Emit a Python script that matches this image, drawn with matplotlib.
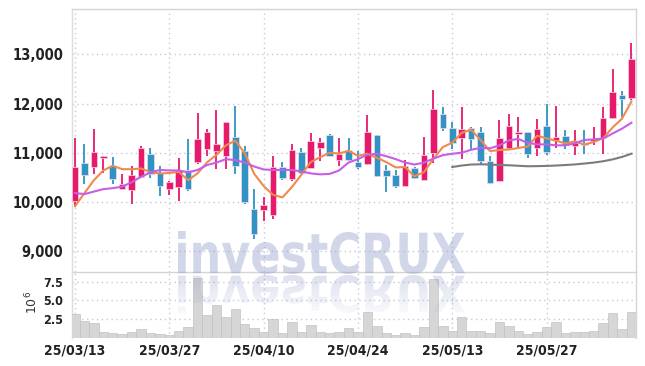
import numpy as np
import matplotlib
matplotlib.use('Agg')
import matplotlib.pyplot as plt
from matplotlib.ticker import FuncFormatter
from matplotlib.textpath import TextPath
from matplotlib.font_manager import FontProperties
from matplotlib.patches import PathPatch
from matplotlib.transforms import Affine2D

# daily candles (index 0 = 25/03/13)
opens = [10020, 10800, 10700, 10890, 10740, 10260, 10240, 10500, 10980, 10590,
         10260, 10310, 10650, 10810, 11080, 11030, 10930, 11320, 11030, 9850,
         9830, 9730, 10720, 10460, 11010, 10680, 11090, 11370, 10850, 11050,
         10820, 10780, 11360, 10640, 10550, 10320, 10690, 10450, 11000, 11780,
         11510, 11300, 11510, 11430, 10840, 10430, 11090, 11380, 11420, 11100,
         11550, 11250, 11340, 11140, 11190, 11230, 11290, 11710, 12180, 12120]
highs = [11300, 11180, 11490, 10940, 10920, 10570, 10740, 11140, 11100, 10730,
         10420, 10900, 11270, 11810, 11480, 11860, 11620, 11940, 11140, 10270,
         10100, 10930, 10810, 11170, 11090, 11410, 11300, 11390, 11300, 11300,
         11030, 11760, 11370, 10760, 10640, 10850, 10700, 11320, 12270, 11930,
         11630, 11930, 11520, 11520, 10930, 11660, 11780, 11730, 11420, 11680,
         12000, 11950, 11460, 11470, 11460, 11520, 11920, 12710, 12250, 13240]
lows = [9920, 10370, 10570, 10580, 10370, 10260, 9950, 10480, 10490, 10130,
        10150, 10020, 10220, 10780, 10930, 10660, 10660, 10560, 9950, 9240,
        9610, 9660, 10440, 10420, 10560, 10680, 10830, 10930, 10730, 10830,
        10660, 10760, 10510, 10210, 10290, 10320, 10460, 10450, 10800, 11440,
        11070, 10870, 11070, 10760, 10360, 10420, 11050, 11120, 10900, 10930,
        10950, 11100, 11070, 10950, 10980, 11150, 10970, 11680, 11730, 12080]
closes = [10710, 10550, 11020, 10940, 10460, 10360, 10540, 11100, 10570, 10320,
          10410, 10650, 10260, 11270, 11430, 11170, 11620, 10740, 9990, 9340,
          9930, 10720, 10480, 11050, 10580, 11230, 11210, 10930, 10970, 10860,
          10710, 11430, 10520, 10530, 10320, 10740, 10490, 10950, 11880, 11510,
          11190, 11490, 11270, 10830, 10390, 11290, 11550, 11420, 10980, 11490,
          11020, 11310, 11150, 11190, 11160, 11280, 11700, 12230, 12100, 12900]
# volume in millions of shares
volume_m = [3.17, 2.23, 1.96, 0.76, 0.63, 0.49, 0.76, 1.12, 0.63, 0.49,
            0.31, 0.89, 1.43, 7.95, 3.04, 4.33, 2.77, 3.79, 1.83, 1.25,
            0.76, 2.50, 0.63, 2.10, 0.76, 1.65, 0.76, 0.58, 0.76, 1.25,
            0.80, 3.39, 1.56, 0.63, 0.31, 0.58, 0.31, 1.38, 7.81, 1.56,
            0.89, 2.72, 0.89, 0.89, 0.63, 2.10, 1.56, 0.89, 0.49, 0.76,
            1.43, 2.10, 0.63, 0.76, 0.76, 0.89, 1.96, 3.26, 1.16, 3.39]

# moving averages (first values depend on earlier days)
ma5_head = [9910, 10180, 10440, 10640]
ma20 = [10180, 10160, 10210, 10260, 10280, 10310, 10400, 10510, 10600, 10650,
        10640, 10640, 10600, 10650, 10750, 10800, 10870, 10850, 10800, 10720,
        10660, 10650, 10650, 10650, 10620, 10580, 10560, 10570, 10640, 10800,
        10870, 10960, 10980, 10930, 10870, 10800, 10760, 10800, 10880, 10950,
        10980, 11000, 11060, 11100, 11090, 11150, 11250, 11280, 11200, 11170,
        11170, 11150, 11150, 11190, 11260, 11270, 11290, 11390, 11490, 11610]
ma60_start = 40
ma60 = [10710, 10740, 10760, 10765, 10760, 10750, 10745, 10735, 10725, 10728,
        10732, 10740, 10750, 10762, 10780, 10800, 10827, 10865, 10915, 10980]

tick_pos = [0, 10, 20, 30, 40, 50]
tick_labels = ['25/03/13', '25/03/27', '25/04/10', '25/04/24', '25/05/13', '25/05/27']
price_ticks = [9000, 10000, 11000, 12000, 13000]
vol_ticks = [2.5, 5.0, 7.5]

UP = '#e6196b'
DOWN = '#2f93c6'
GRID = '#c6c9da'
SPINE = '#d4d4d4'

n = len(closes)
x = np.arange(n)
o = np.array(opens, float)
c = np.array(closes, float)
h = np.array(highs, float)
l = np.array(lows, float)
up = c >= o
cols = np.where(up, UP, DOWN)

ma5 = np.array(ma5_head + [c[i - 4:i + 1].mean() for i in range(4, n)])

W, H = 645, 366
fig = plt.figure(figsize=(W / 100, H / 100), dpi=100)
fig.patch.set_facecolor('white')

def pos(left, top, right, bottom):
    return [left / W, 1 - bottom / H, (right - left) / W, (bottom - top) / H]

ax = fig.add_axes(pos(71.7, 9.3, 635.7, 272.3))
axv = fig.add_axes(pos(71.7, 272.3, 635.7, 337.7), sharex=ax)

# candles
ax.vlines(x, l, h, colors=cols, linewidth=1.3, zorder=3)
ax.bar(x, np.abs(c - o), bottom=np.minimum(o, c), width=0.7, color=cols,
       edgecolor='#f6dbe6', linewidth=0.5, zorder=4)

ax.plot(x, ma5, color='#ef8a4e', linewidth=1.5, zorder=5)
ax.plot(x, ma20, color='#c85de6', linewidth=1.5, zorder=5)
ax.plot(x[ma60_start:], ma60, color='#7c7c7c', linewidth=1.5, zorder=5)

ax.set_xlim(-0.35, 59.45)
ax.set_ylim(8570, 13915)
ax.set_yticks(price_ticks)
ax.yaxis.set_major_formatter(FuncFormatter(lambda v, p: '{:,.0f}'.format(v)))
ax.grid(True, color=GRID, linestyle=(0, (1, 2.5)), linewidth=1)
ax.tick_params(length=0, pad=6, labelsize=10.5, labelcolor='#222222')
plt.setp(ax.get_xticklabels(), visible=False)

axv.bar(x, volume_m, width=1.0, color='#d6d6d6', edgecolor='#c2c2c2',
        linewidth=0.5, zorder=3)
axv.set_ylim(0, 8.75)
axv.set_yticks(vol_ticks)
axv.set_yticklabels(['2.5', '5.0', '7.5'])
axv.set_xticks(tick_pos)
axv.set_xticklabels(tick_labels)
axv.grid(True, color=GRID, linestyle=(0, (1, 2.5)), linewidth=1)
axv.tick_params(axis='x', length=0, pad=4, labelsize=10, labelcolor='#222222')
axv.tick_params(axis='y', length=0, pad=6, labelsize=9, labelcolor='#222222')

for a in (ax, axv):
    a.set_axisbelow(True)
    a.set_facecolor('none')
    for lab in a.get_xticklabels() + a.get_yticklabels():
        lab.set_family('DejaVu Sans')
        lab.set_stretch('condensed')
        lab.set_fontweight('bold')
    for s in a.spines.values():
        s.set_color(SPINE)
        s.set_linewidth(1)
ax.spines['left'].set_color('#dddddd')
axv.spines['left'].set_color('#dddddd')
axv.spines['bottom'].set_visible(False)
axv.spines['top'].set_visible(False)

fig.text(32 / W, 1 - 302 / H, r'$10^6$', rotation=90, ha='center', va='center',
         fontsize=9, color='#333333')

# watermark with its reflection
ov = fig.add_axes([0, 0, 1, 1], zorder=10)
ov.set_axis_off()
ov.patch.set_alpha(0)
tp = TextPath((0, 0), 'investCRUX', size=1,
              prop=FontProperties(family='DejaVu Sans', weight='bold'))
bb = tp.get_extents()
x0, x1 = 178, 465
top, base = 231, 274
sx = (x1 - x0) / bb.width
sy = (base - top) / bb.height
t_main = Affine2D().translate(-bb.x0, -bb.y0).scale(sx, -sy).translate(x0, base)
t_refl = Affine2D().translate(-bb.x0, -bb.y0).scale(sx, sy * 0.9).translate(x0, base + 1)
ov.add_patch(PathPatch(t_main.transform_path(tp), facecolor='#8e9bc9',
                       edgecolor='none', alpha=0.4))
refl = PathPatch(t_refl.transform_path(tp), facecolor='none', edgecolor='none')
ov.add_patch(refl)
grad = np.zeros((60, 1, 4))
grad[..., 0] = 0x8e / 255
grad[..., 1] = 0x9b / 255
grad[..., 2] = 0xc9 / 255
grad[:, 0, 3] = np.linspace(0.3, 0.05, 60)
im = ov.imshow(grad, extent=(x0, x1, base + 1 + (base - top) * 0.9, base + 1),
               origin='upper', aspect='auto', interpolation='bilinear')
im.set_clip_path(refl)
ov.set_xlim(0, W)
ov.set_ylim(H, 0)

fig.savefig('out.png', dpi=100)
